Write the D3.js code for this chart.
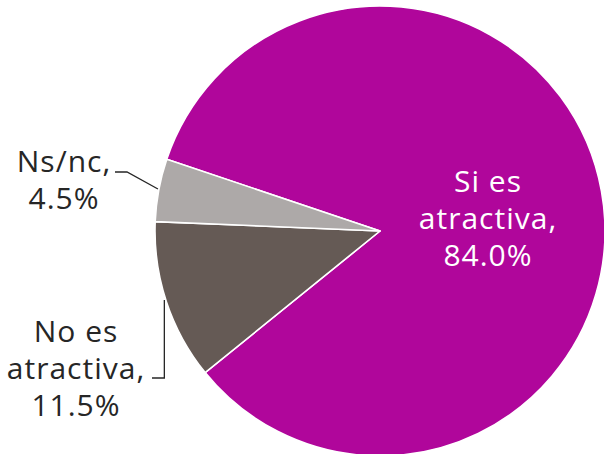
<!DOCTYPE html>
<html><head><meta charset="utf-8">
<script src="https://cdn.jsdelivr.net/npm/d3@7"></script>
<style>html,body{margin:0;padding:0;background:#fff;}svg{display:block;}</style>
</head><body>
<svg id="chart" width="604" height="454"></svg>
<script>
const categories = ["Si es atractiva", "No es atractiva", "Ns/nc"];
const values = [84.0, 11.5, 4.5];
const labelLines = [["Si es", "atractiva,", "84.0%"], ["No es", "atractiva,", "11.5%"], ["Ns/nc,", "4.5%"]];
const colors = ["#B0069B", "#655A55", "#ADA9A8"];

const W = 604, H = 454;
const cx = 380, cy = 231, R = 225;
const startDeg = -71.4;
const svg = d3.select("#chart");
const g = svg.append("g").attr("transform", `translate(${cx},${cy})`);

const data = categories.map((c, i) => ({cat: c, value: values[i], lines: labelLines[i], color: colors[i]}));
const pie = d3.pie().value(d => d.value).sort(null)
  .startAngle(startDeg * Math.PI / 180)
  .endAngle((startDeg + 360) * Math.PI / 180);
const arcs = pie(data);
const arc = d3.arc().innerRadius(0).outerRadius(R);

g.selectAll("path.slice").data(arcs).join("path")
  .attr("class", "slice")
  .attr("d", arc)
  .attr("fill", d => d.data.color)
  .attr("stroke", "#fff")
  .attr("stroke-width", 1.6)
  .attr("stroke-linejoin", "round");

const font = "'Open Sans', sans-serif";
const fs = 30, lh = 37;

// Label layout (absolute page coordinates of first baseline and anchor x)
const labelPos = [
  {x: 488, y: 192, fill: "#fff"},
  {x: 76, y: 342, fill: "#262626"},
  {x: 64, y: 172, fill: "#262626"}
];

arcs.forEach((a, i) => {
  const p = labelPos[i];
  const t = svg.append("text")
    .attr("font-family", font).attr("font-size", fs)
    .attr("letter-spacing", "1px")
    .attr("fill", p.fill).attr("text-anchor", "middle");
  a.data.lines.forEach((ln, k) => {
    t.append("tspan").attr("x", p.x).attr("y", p.y + k * lh).text(ln);
  });
});

// Leader lines, anchored on the arc
function arcPointAtY(y, side) {
  const dy = y - cy;
  return cx + side * Math.sqrt(R * R - dy * dy);
}
const leaderNo = [[152, 378], [164, 378], [164, 300]];
leaderNo[2][0] = arcPointAtY(300, -1) - 1.5;
leaderNo[1][0] = leaderNo[2][0];
const leaderNs = [[115, 172], [127, 172], [arcPointAtY(189, -1) - 1, 189]];
[leaderNo, leaderNs].forEach(pts => {
  svg.append("path")
    .attr("d", d3.line()(pts))
    .attr("fill", "none").attr("stroke", "#262626").attr("stroke-width", 1.3);
});
</script>
</body></html>
